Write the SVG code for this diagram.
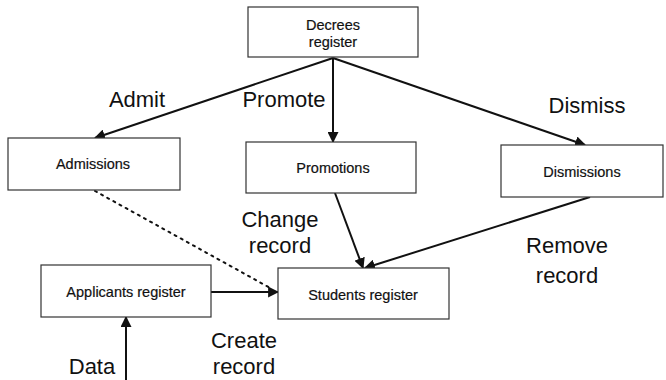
<svg xmlns="http://www.w3.org/2000/svg" width="666" height="380" viewBox="0 0 666 380">
  <defs>
    <marker id="head" viewBox="0 0 10 10" refX="9" refY="5" markerWidth="5.5" markerHeight="5.5" orient="auto" markerUnits="strokeWidth">
      <path d="M0,0 L10,5 L0,10 z" fill="#111"/>
    </marker>
    <style>
      .box { fill: #fff; stroke: #333; stroke-width: 1.2; }
      .ntext { font-family: "Liberation Sans", Arial, sans-serif; font-size: 14.5px; fill: #111; text-anchor: middle; stroke: #111; stroke-width: 0.2; }
      .label { font-family: "Liberation Sans", Arial, sans-serif; font-size: 22px; fill: #111; text-anchor: middle; }
      .edge { stroke: #111; stroke-width: 2; fill: none; marker-end: url(#head); }
      .dotted { stroke: #111; stroke-width: 2; fill: none; stroke-dasharray: 2 5; stroke-linecap: round; }
    </style>
  </defs>
  <rect width="666" height="380" fill="#fff"/>

  <g id="connectors">
    <line class="edge" x1="333" y1="58" x2="95" y2="138"/>
    <line class="edge" x1="333" y1="58" x2="333" y2="142"/>
    <line class="edge" x1="333" y1="58" x2="585" y2="145"/>
    <line class="edge" x1="335" y1="193" x2="363" y2="268"/>
    <line class="edge" x1="590" y1="197" x2="365" y2="268"/>
    <line class="dotted" x1="95" y1="191" x2="272" y2="289"/>
    <line class="edge" x1="211" y1="292" x2="278" y2="292"/>
    <line class="edge" x1="126" y1="380" x2="126" y2="317"/>
  </g>

  <g id="decrees">
    <rect class="box" x="248" y="7" width="170" height="50"/>
    <text class="ntext" x="333" y="30">Decrees</text>
    <text class="ntext" x="333" y="47">register</text>
  </g>
  <g id="admissions">
    <rect class="box" x="8" y="138" width="172" height="52"/>
    <text class="ntext" x="93" y="169">Admissions</text>
  </g>
  <g id="promotions">
    <rect class="box" x="246" y="142" width="170" height="51"/>
    <text class="ntext" x="333" y="173">Promotions</text>
  </g>
  <g id="dismissions">
    <rect class="box" x="501" y="145" width="162" height="52"/>
    <text class="ntext" x="582" y="177">Dismissions</text>
  </g>
  <g id="applicants">
    <rect class="box" x="41" y="265" width="170" height="52"/>
    <text class="ntext" x="126" y="297">Applicants register</text>
  </g>
  <g id="students">
    <rect class="box" x="278" y="268" width="171" height="51"/>
    <text class="ntext" x="363" y="300">Students register</text>
  </g>

  <g id="labels">
    <text class="label" x="137" y="107">Admit</text>
    <text class="label" x="284" y="107">Promote</text>
    <text class="label" x="587" y="113">Dismiss</text>
    <text class="label" x="280" y="227">Change</text>
    <text class="label" x="280" y="253">record</text>
    <text class="label" x="567" y="253">Remove</text>
    <text class="label" x="567" y="283">record</text>
    <text class="label" x="244" y="348">Create</text>
    <text class="label" x="244" y="374">record</text>
    <text class="label" x="92" y="374">Data</text>
  </g>
</svg>
